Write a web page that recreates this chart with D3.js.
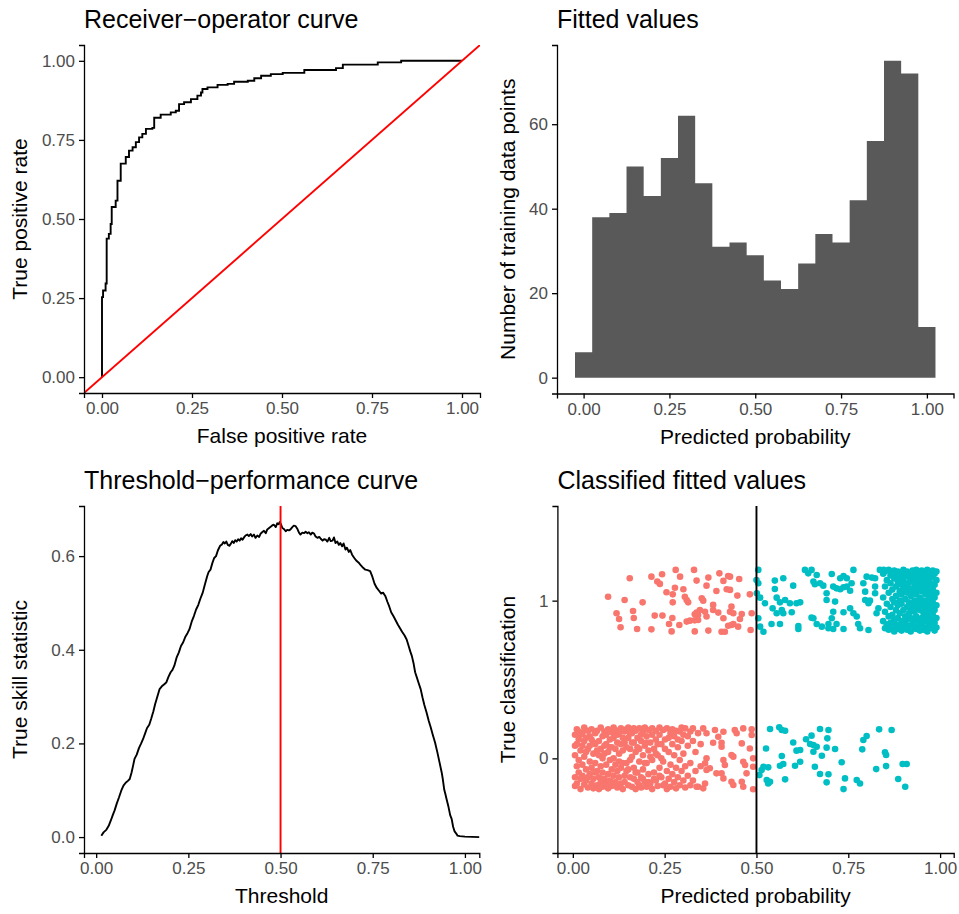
<!DOCTYPE html>
<html><head><meta charset="utf-8">
<script src="https://cdn.jsdelivr.net/npm/d3@7"></script>
<style>
body{margin:0;background:#fff}
svg{display:block}
text{font-family:"Liberation Sans",Arial,Helvetica,sans-serif}
</style>
</head><body>
<svg id="c" width="959" height="914"></svg>
<script>
// ---------------- DATA ----------------
// ROC curve (false positive rate, true positive rate)
const rocFpr = [0,0,0.003,0.010,0.013,0.019,0.024,0.027,0.038,0.043,0.052,0.061,0.066,0.075,0.085,0.094,0.103,0.112,0.122,0.140,0.145,0.163,0.186,0.191,0.205,0.214,0.228,0.247,0.265,0.275,0.279,0.293,0.321,0.349,0.367,0.405,0.423,0.442,0.469,0.502,0.562,0.650,0.669,0.766,0.831,1.0];
const rocTpr = [0,0.253,0.274,0.296,0.438,0.453,0.484,0.538,0.558,0.621,0.675,0.675,0.696,0.716,0.727,0.743,0.758,0.769,0.785,0.788,0.820,0.830,0.830,0.837,0.842,0.863,0.869,0.879,0.890,0.900,0.911,0.916,0.924,0.927,0.934,0.937,0.945,0.953,0.958,0.962,0.971,0.977,0.988,0.995,1.0,1.0];

// Histogram of fitted values (bin centres, counts)
const binMids = [0,0.05,0.10,0.15,0.20,0.25,0.30,0.35,0.40,0.45,0.50,0.55,0.60,0.65,0.70,0.75,0.80,0.85,0.90,0.95,1.00];
const binCounts = [6,38,39,50,43,52,62,46,31,32,29,23,21,27,34,32,42,56,75,72,12];
const binWidth = 0.05;

// Threshold-performance curve
const tssThreshold = [0.014,0.020,0.028,0.034,0.040,0.045,0.050,0.056,0.062,0.068,0.074,0.080,0.086,0.091,0.096,0.100,0.104,0.110,0.116,0.122,0.127,0.133,0.138,0.144,0.149,0.155,0.160,0.166,0.172,0.178,0.184,0.190,0.196,0.202,0.207,0.212,0.218,0.224,0.230,0.236,0.242,0.248,0.253,0.259,0.265,0.271,0.277,0.283,0.289,0.295,0.301,0.305,0.310,0.315,0.320,0.325,0.330,0.336,0.341,0.345,0.349,0.353,0.357,0.361,0.365,0.369,0.373,0.377,0.381,0.385,0.389,0.393,0.397,0.401,0.405,0.410,0.414,0.419,0.423,0.428,0.432,0.437,0.442,0.446,0.450,0.455,0.460,0.464,0.469,0.474,0.478,0.482,0.487,0.491,0.495,0.498,0.502,0.505,0.509,0.514,0.518,0.523,0.527,0.532,0.536,0.541,0.545,0.550,0.554,0.559,0.564,0.568,0.573,0.577,0.582,0.586,0.591,0.595,0.600,0.605,0.609,0.614,0.618,0.623,0.627,0.632,0.636,0.641,0.645,0.649,0.654,0.658,0.662,0.667,0.671,0.676,0.680,0.685,0.689,0.694,0.700,0.706,0.712,0.718,0.724,0.730,0.736,0.743,0.749,0.755,0.761,0.767,0.773,0.778,0.784,0.790,0.795,0.800,0.806,0.812,0.818,0.824,0.830,0.836,0.842,0.847,0.852,0.856,0.861,0.865,0.870,0.874,0.880,0.885,0.890,0.896,0.902,0.907,0.913,0.919,0.925,0.931,0.937,0.940,0.944,0.947,0.950,0.955,0.960,0.964,0.968,0.972,0.977,0.980,0.986,1.000,1.040];
const tssValue = [0.003,0.010,0.016,0.024,0.036,0.047,0.057,0.072,0.085,0.099,0.110,0.116,0.120,0.124,0.138,0.152,0.167,0.176,0.190,0.200,0.209,0.222,0.233,0.240,0.252,0.268,0.284,0.300,0.316,0.322,0.326,0.330,0.342,0.352,0.357,0.366,0.383,0.394,0.408,0.416,0.428,0.436,0.444,0.460,0.472,0.486,0.496,0.510,0.522,0.540,0.557,0.566,0.571,0.585,0.596,0.600,0.612,0.622,0.625,0.630,0.627,0.631,0.624,0.622,0.626,0.632,0.628,0.634,0.631,0.636,0.633,0.638,0.635,0.640,0.644,0.646,0.643,0.647,0.642,0.646,0.639,0.644,0.641,0.648,0.651,0.654,0.649,0.657,0.660,0.663,0.666,0.667,0.662,0.670,0.668,0.673,0.666,0.660,0.658,0.653,0.656,0.655,0.657,0.662,0.665,0.664,0.659,0.650,0.646,0.650,0.649,0.652,0.649,0.651,0.646,0.650,0.648,0.642,0.639,0.641,0.637,0.633,0.636,0.635,0.631,0.639,0.632,0.633,0.640,0.628,0.631,0.624,0.628,0.621,0.627,0.614,0.618,0.609,0.613,0.603,0.596,0.590,0.586,0.580,0.575,0.571,0.570,0.568,0.556,0.541,0.532,0.526,0.520,0.522,0.515,0.502,0.492,0.480,0.472,0.463,0.454,0.446,0.438,0.431,0.422,0.409,0.396,0.387,0.370,0.352,0.340,0.330,0.316,0.298,0.282,0.266,0.248,0.235,0.218,0.202,0.182,0.160,0.138,0.124,0.101,0.092,0.082,0.066,0.047,0.039,0.022,0.012,0.007,0.003,0.002,0.001,0.000];
const chosenThreshold = 0.5;

// Classified fitted values: [predicted probability, vertical jitter]
const class1Points = [
[0.096,0.025],[0.155,0.142],[0.141,0.004],[0.190,-0.011],[0.119,-0.080],[0.126,-0.116],[0.130,-0.169],[0.164,-0.066],[0.166,-0.110],[0.175,-0.180],
[0.214,0.152],[0.243,0.167],[0.230,0.121],[0.237,0.106],[0.280,0.195],[0.292,0.152],[0.255,0.053],[0.278,0.082],[0.272,0.040],[0.272,-0.011],
[0.301,0.072],[0.223,-0.095],[0.244,-0.095],[0.262,-0.148],[0.271,-0.110],[0.214,-0.182],[0.269,-0.195],[0.290,-0.154],[0.310,-0.133],[0.319,-0.127],
[0.332,-0.125],[0.341,-0.123],[0.330,0.195],[0.337,0.127],[0.369,0.146],[0.364,0.095],[0.310,0.004],[0.314,-0.011],[0.305,0.025],[0.351,0.015],
[0.355,0.000],[0.346,-0.059],[0.332,-0.087],[0.341,-0.091],[0.360,-0.070],[0.382,-0.027],[0.382,-0.059],[0.396,-0.076],[0.399,0.173],[0.410,0.125],
[0.423,0.156],[0.428,0.152],[0.391,0.061],[0.419,0.072],[0.428,0.068],[0.432,-0.038],[0.428,-0.070],[0.437,-0.080],[0.410,-0.112],[0.423,-0.159],
[0.432,-0.154],[0.437,-0.148],[0.332,-0.195],[0.369,-0.190],[0.405,-0.197],[0.414,-0.197],[0.448,0.032],[0.453,0.137],[0.460,-0.085],[0.455,-0.116],
[0.450,-0.165],[0.482,0.040],[0.484,-0.186],[0.487,-0.080],[0.364,-0.101],[0.337,-0.076],
[0.505,0.195],[0.500,0.131],[0.505,0.110],[0.501,0.047],[0.510,0.019],[0.523,-0.017],[0.505,-0.112],[0.510,-0.165],[0.519,-0.197],[0.550,0.127],
[0.573,0.142],[0.550,0.074],[0.555,0.019],[0.578,0.004],[0.564,-0.011],[0.600,0.095],[0.591,-0.017],[0.609,-0.017],[0.619,-0.011],[0.544,-0.049],
[0.555,-0.080],[0.569,-0.059],[0.573,-0.080],[0.596,-0.074],[0.541,-0.148],[0.564,-0.148],[0.614,-0.161],[0.614,-0.180],[0.632,0.195],[0.641,0.173],
[0.650,0.195],[0.664,0.163],[0.655,0.121],[0.659,0.104],[0.673,0.110],[0.682,0.095],[0.691,0.047],[0.691,0.004],[0.714,-0.006],[0.705,0.169],
[0.728,0.142],[0.737,0.156],[0.746,0.142],[0.764,0.195],[0.759,0.110],[0.755,0.063],[0.709,0.089],[0.718,0.078],[0.728,0.072],[0.737,0.085],
[0.746,0.089],[0.709,-0.070],[0.737,-0.074],[0.705,-0.112],[0.696,-0.148],[0.718,-0.148],[0.696,-0.175],[0.709,-0.180],[0.737,-0.180],[0.664,-0.148],
[0.655,-0.112],[0.650,-0.108],[0.678,-0.165],[0.755,-0.049],[0.764,-0.080],[0.773,-0.101],[0.777,-0.148],[0.782,-0.175],[0.805,-0.186],[0.805,-0.017],
[0.796,0.004],[0.809,0.000],[0.796,0.057],[0.791,0.110],[0.800,0.152],[0.814,0.146],[0.823,0.142],[0.823,0.089],[0.823,0.047],[0.832,-0.049],
[0.827,-0.080],[0.836,0.195],[0.846,0.195]
];
// dense part of class 1 (columns: probability, jitters)
const class1Dense = [
[0.845,[0.17,0.02,-0.13]],
[0.850,[0.09,-0.07,-0.175,0.185]],
[0.855,[0.13,-0.02,-0.15]],
[0.860,[0.195,0.05,-0.10,-0.185]],
[0.865,[0.11,-0.04,0.16,-0.14]],
[0.870,[0.175,0.07,-0.09,-0.165,0.01]],
[0.875,[0.14,-0.01,-0.12,0.19,-0.195]],
[0.880,[0.09,0.165,-0.06,-0.15,0.03]],
[0.885,[0.185,0.12,-0.03,-0.11,-0.18]],
[0.890,[0.06,0.15,-0.08,-0.16,0.00]],
[0.895,[0.18,0.10,-0.02,-0.13,-0.19,0.04]],
[0.900,[0.13,0.07,-0.06,-0.17,0.195]],
[0.905,[0.16,0.01,-0.10,-0.14,0.09]],
[0.910,[0.185,0.11,-0.04,-0.185,0.05,-0.12]],
[0.915,[0.08,0.15,-0.01,-0.08,-0.16]],
[0.920,[0.175,0.12,0.03,-0.11,-0.195,-0.05]],
[0.925,[0.14,0.06,-0.03,-0.14,0.19]],
[0.930,[0.17,0.09,-0.07,-0.17,0.00,-0.12]],
[0.935,[0.195,0.12,0.04,-0.10,-0.18,-0.04]],
[0.940,[0.15,0.07,-0.01,-0.13,-0.16]],
[0.945,[0.18,0.10,0.02,-0.06,-0.19,0.14]],
[0.950,[0.19,0.13,-0.03,-0.11,-0.15,0.06]],
[0.955,[0.16,0.08,0.00,-0.08,-0.185,0.11]],
[0.960,[0.175,0.04,-0.05,-0.13,-0.17,0.12]],
[0.965,[0.195,0.14,0.07,-0.02,-0.10,-0.195]],
[0.970,[0.16,0.09,0.01,-0.07,-0.15,0.12]],
[0.975,[0.18,0.11,0.04,-0.04,-0.12,-0.175]],
[0.980,[0.15,0.07,-0.01,-0.09,-0.16,0.19]],
[0.985,[0.17,0.10,0.02,-0.06,-0.14,-0.19]],
[0.990,[0.13,0.05,-0.03,-0.11,0.185,-0.17]]
];
const class0Points = [
[0.537,0.186],[0.562,0.197],[0.569,0.180],[0.578,0.175],[0.526,0.063],[0.508,-0.106],[0.514,-0.074],[0.519,-0.053],[0.532,-0.057],[0.528,-0.137],
[0.532,-0.159],[0.537,-0.148],[0.578,-0.133],[0.564,-0.047],[0.573,-0.036],[0.569,0.015],[0.600,0.101],[0.609,0.049],[0.619,0.053],[0.605,-0.047],
[0.619,-0.021],[0.635,0.121],[0.646,0.091],[0.650,0.144],[0.655,0.085],[0.664,0.074],[0.655,0.042],[0.673,0.186],[0.696,0.180],[0.693,0.127],
[0.691,0.068],[0.714,0.059],[0.678,0.017],[0.659,-0.053],[0.673,-0.099],[0.696,-0.101],[0.691,-0.152],[0.732,-0.025],[0.741,-0.127],[0.737,-0.195],
[0.773,-0.137],[0.782,-0.159],[0.791,0.116],[0.800,0.142],[0.788,0.057],[0.834,0.184],[0.868,0.180],[0.850,0.038],[0.853,0.021],[0.853,-0.049],
[0.826,-0.068],[0.886,-0.131],[0.905,-0.180],[0.898,-0.036],[0.909,-0.036],
[0.355,0.190],[0.364,0.159],[0.387,0.180],[0.396,0.137],[0.410,0.169],[0.441,0.180],[0.446,0.159],[0.464,0.190],[0.487,0.148],[0.487,0.184],
[0.382,0.099],[0.405,0.099],[0.405,0.074],[0.410,-0.011],[0.414,-0.042],[0.432,0.021],[0.437,0.011],[0.460,0.095],[0.464,-0.021],[0.469,-0.042],
[0.491,0.000],[0.491,-0.053],[0.364,-0.074],[0.373,-0.063],[0.391,-0.095],[0.405,-0.095],[0.410,-0.127],[0.432,-0.148],[0.437,-0.169],[0.460,-0.148],
[0.464,-0.180],[0.491,-0.196],[0.360,-0.159],[0.337,-0.180],[0.355,-0.190],[0.364,0.000],[0.360,-0.032],[0.482,0.063],[0.473,-0.095]
];
// dense part of class 0 (columns: probability, jitters)
const class0Dense = [
[0.006,[0.15,0.02,-0.12,0.08,-0.175]],
[0.011,[0.09,-0.05,-0.16,0.185]],
[0.016,[0.17,0.12,-0.01,-0.09]],
[0.021,[0.05,-0.13,-0.195,0.15]],
[0.026,[0.16,0.08,-0.04,-0.11]],
[0.031,[0.195,0.01,-0.165,0.11]],
[0.036,[0.13,-0.07,-0.14,0.04]],
[0.041,[0.175,0.06,-0.12,-0.185]],
[0.046,[0.08,-0.02,-0.10,0.14]],
[0.051,[0.185,0.12,-0.06,-0.16]],
[0.056,[0.03,-0.13,-0.19,0.10]],
[0.061,[0.16,0.09,-0.03,-0.09]],
[0.066,[0.175,-0.08,-0.17,0.05]],
[0.071,[0.11,0.02,-0.12,-0.195]],
[0.076,[0.195,0.06,-0.05,-0.15]],
[0.081,[0.14,-0.09,0.00,-0.18]],
[0.086,[0.17,0.08,-0.13,0.03]],
[0.091,[0.09,-0.04,-0.16,0.15]],
[0.096,[0.185,0.04,-0.10,-0.19]],
[0.101,[0.12,-0.01,-0.14,0.07]],
[0.106,[0.165,0.07,-0.07,-0.175]],
[0.111,[0.13,0.00,-0.11,0.195]],
[0.116,[0.18,0.06,-0.04,-0.15]],
[0.121,[0.10,-0.08,-0.185,0.15]],
[0.126,[0.16,0.03,-0.12,-0.02]],
[0.131,[0.19,0.09,-0.06,-0.16]],
[0.136,[0.13,-0.03,-0.195,0.05]],
[0.141,[0.17,0.10,-0.11,-0.15]],
[0.146,[0.07,-0.03,0.185,-0.08]],
[0.151,[0.195,0.13,-0.07,-0.17]],
[0.156,[0.06,-0.12,0.16,-0.01]],
[0.161,[0.16,0.01,-0.18,0.10]],
[0.166,[0.10,-0.06,-0.13,0.19]],
[0.171,[0.175,0.04,-0.195,-0.09]],
[0.176,[0.13,-0.09,-0.15,0.07]],
[0.181,[0.19,0.06,-0.02,-0.17]],
[0.186,[0.11,-0.12,-0.185,0.15]],
[0.191,[0.17,0.02,-0.07,-0.13]],
[0.196,[0.08,-0.15,0.195,-0.03]],
[0.201,[0.14,-0.03,-0.18,0.10]],
[0.206,[0.18,0.05,-0.10,-0.15]],
[0.211,[0.10,-0.16,0.01]],
[0.216,[0.15,-0.01,-0.195,0.19]],
[0.221,[0.06,-0.09,-0.13]],
[0.226,[0.175,0.12,-0.14,0.03]],
[0.231,[0.02,-0.175,0.09]],
[0.236,[0.15,-0.06,-0.11,0.195]],
[0.241,[0.09,-0.12,0.00]],
[0.246,[0.18,-0.02,-0.17]],
[0.251,[0.12,-0.16,0.06]],
[0.256,[0.19,-0.08,-0.195]],
[0.261,[0.04,0.13,-0.13]],
[0.266,[0.16,-0.04,-0.18]],
[0.271,[0.09,0.185,-0.10]],
[0.276,[0.14,-0.15,0.02]],
[0.281,[0.175,-0.06,-0.19]],
[0.286,[0.07,-0.12,0.12]],
[0.291,[0.17,-0.01,-0.17]],
[0.296,[0.11,-0.08,0.195]],
[0.301,[0.15,-0.14,0.03]],
[0.306,[0.19,-0.05,-0.185]],
[0.313,[0.08,-0.11,0.14]],
[0.320,[0.17,-0.03,-0.17]],
[0.327,[0.11,-0.14,0.19]],
[0.334,[0.04,-0.08]],
[0.341,[0.16,-0.18]],
[0.348,[0.09,-0.05]]
];

// Tick values
const probTicks = [0,0.25,0.5,0.75,1];
const countTicks = [0,20,40,60];
const tssTicks = [0,0.2,0.4,0.6];
const classTicks = [0,1];

// ---------------- DRAWING ----------------
const svg = d3.select("#c");
svg.append("rect").attr("width",959).attr("height",914).attr("fill","#fff");
const RED = "#F8766D", CYAN = "#00BFC4";
const LINE_W = 1.9, AXIS_W = 1.3;

function makePanel(id, box, xDom, yDom) {
  const x = d3.scaleLinear().domain(xDom).range([box.l, box.r]);
  const y = d3.scaleLinear().domain(yDom).range([box.b, box.t]);
  svg.append("clipPath").attr("id", id).append("rect")
    .attr("x", box.l).attr("y", box.t).attr("width", box.r - box.l).attr("height", box.b - box.t);
  const g = svg.append("g");
  const plot = g.append("g").attr("clip-path", `url(#${id})`);
  return {x, y, g, plot, box};
}
function drawAxes(P, xt, yt, xf, yf) {
  const ax = P.g.append("g").attr("transform", `translate(0,${P.box.b})`)
    .call(d3.axisBottom(P.x).tickValues(xt).tickFormat(xf).tickSizeOuter(0).tickSize(5).tickPadding(4));
  const ay = P.g.append("g").attr("transform", `translate(${P.box.l},0)`)
    .call(d3.axisLeft(P.y).tickValues(yt).tickFormat(yf).tickSizeOuter(0).tickSize(5).tickPadding(4));
  [ax, ay].forEach(a => {
    a.select(".domain").attr("stroke", "#000").attr("stroke-width", AXIS_W);
    a.selectAll(".tick line").attr("stroke", "#000").attr("stroke-width", AXIS_W);
    a.selectAll(".tick text").attr("fill", "#4D4D4D").style("font-size", "17px");
  });
}
function labels(P, title, xlab, ylab, ylabX) {
  const b = P.box;
  svg.append("text").attr("x", b.l).attr("y", b.t - 17).text(title)
    .style("font-size", "25px").attr("fill", "#000");
  svg.append("text").attr("x", (b.l + b.r) / 2).attr("y", b.b + 50).attr("text-anchor", "middle")
    .text(xlab).style("font-size", "21px").attr("fill", "#000");
  svg.append("text").attr("transform", `translate(${ylabX},${(b.t + b.b) / 2}) rotate(-90)`)
    .attr("text-anchor", "middle").text(ylab).style("font-size", "21px").attr("fill", "#000");
}
const f2 = d3.format(".2f"), f1 = d3.format(".1f"), f0 = d3.format("d");

// Panel 1: ROC
const P1 = makePanel("c1", {l:84, r:480, t:45, b:393}, [-0.05,1.05], [-0.05,1.05]);
const rocData = rocFpr.map((v,i) => [v, rocTpr[i]]);
P1.plot.append("path").datum(rocData)
  .attr("d", d3.line().curve(d3.curveStepAfter).x(d => P1.x(d[0])).y(d => P1.y(d[1])))
  .attr("fill", "none").attr("stroke", "#000").attr("stroke-width", LINE_W);
P1.plot.append("line")
  .attr("x1", P1.x(-0.05)).attr("y1", P1.y(-0.05)).attr("x2", P1.x(1.05)).attr("y2", P1.y(1.05))
  .attr("stroke", "#FF0000").attr("stroke-width", LINE_W);
drawAxes(P1, probTicks, probTicks, f2, f2);
labels(P1, "Receiver\u2212operator curve", "False positive rate", "True positive rate", 27);

// Panel 2: histogram (drawn as one stepped area so bars have no seams)
const P2 = makePanel("c2", {l:557, r:953.5, t:45, b:393.5}, [-0.0775,1.0775], [-3.75,78.75]);
const histSteps = binMids.map((m,i) => [m - binWidth/2, binCounts[i]]);
histSteps.push([binMids[binMids.length-1] + binWidth/2, binCounts[binCounts.length-1]]);
P2.plot.append("path").datum(histSteps)
  .attr("d", d3.area().curve(d3.curveStepAfter).x(d => P2.x(d[0])).y0(P2.y(0)).y1(d => P2.y(d[1])))
  .attr("fill", "#595959");
drawAxes(P2, probTicks, countTicks, f2, f0);
labels(P2, "Fitted values", "Predicted probability", "Number of training data points", 515);

// Panel 3: threshold-performance
const P3 = makePanel("c3", {l:84, r:479.3, t:506, b:853}, [-0.033,1.039], [-0.034,0.707]);
const tssData = tssThreshold.map((v,i) => [v, tssValue[i]]);
P3.plot.append("path").datum(tssData)
  .attr("d", d3.line().x(d => P3.x(d[0])).y(d => P3.y(d[1])))
  .attr("fill", "none").attr("stroke", "#000").attr("stroke-width", LINE_W).attr("stroke-linejoin","round");
P3.plot.append("line")
  .attr("x1", P3.x(chosenThreshold)).attr("x2", P3.x(chosenThreshold))
  .attr("y1", P3.box.t).attr("y2", P3.box.b)
  .attr("stroke", "#FF0000").attr("stroke-width", LINE_W);
drawAxes(P3, probTicks, tssTicks, f2, f1);
labels(P3, "Threshold\u2212performance curve", "Threshold", "True skill statistic", 27);

// Panel 4: classified fitted values
const P4 = makePanel("c4", {l:557.4, r:953.7, t:506, b:853}, [-0.042,1.037], [-0.6,1.6]);
const pts = [];
class0Dense.forEach(([p, js]) => js.forEach(j => pts.push({p, y: 0 + j})));
class0Points.forEach(([p, j]) => pts.push({p, y: 0 + j}));
class1Points.forEach(([p, j]) => pts.push({p, y: 1 + j}));
class1Dense.forEach(([p, js]) => js.forEach(j => pts.push({p, y: 1 + j})));
P4.plot.selectAll("circle").data(pts).join("circle")
  .attr("cx", d => P4.x(d.p)).attr("cy", d => P4.y(d.y)).attr("r", 3.3)
  .attr("fill", d => d.p >= chosenThreshold ? CYAN : RED);
P4.plot.append("line")
  .attr("x1", P4.x(chosenThreshold)).attr("x2", P4.x(chosenThreshold))
  .attr("y1", P4.box.t).attr("y2", P4.box.b)
  .attr("stroke", "#000").attr("stroke-width", LINE_W);
drawAxes(P4, probTicks, classTicks, f2, f0);
labels(P4, "Classified fitted values", "Predicted probability", "True classification", 515);
</script>
</body></html>
